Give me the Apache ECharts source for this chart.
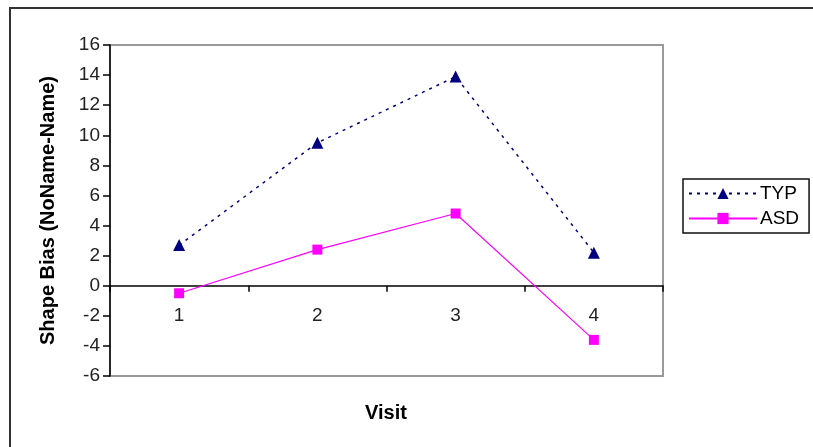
<!DOCTYPE html>
<html>
<head>
<meta charset="utf-8">
<style>
  html, body { margin: 0; padding: 0; background: #fff; }
  #chart { width: 813px; height: 447px; }
</style>
<script src="https://cdn.jsdelivr.net/npm/echarts@6/dist/echarts.min.js"></script>
</head>
<body>
<div id="chart"></div>
<script>
// Visits along the x axis
const visits = ['1', '2', '3', '4'];
// Shape bias per visit for each group
const typValues = [2.7, 9.5, 13.9, 2.2];
const asdValues = [-0.5, 2.4, 4.8, -3.6];
// Value axis range
const yMin = -6;
const yMax = 16;
const yStep = 2;

const FONT = '"Liberation Sans", Arial, sans-serif';

const W = 813, H = 447;
const gridBox = { left: 110, top: 45, right: 150, bottom: 71 };
const plotH = H - gridBox.top - gridBox.bottom;
// The category axis runs along the zero line of the value axis
const zeroShift = plotH * (0 - yMin) / (yMax - yMin);

const chart = echarts.init(document.getElementById('chart'), null, { renderer: 'canvas' });

chart.setOption({
  animation: false,
  backgroundColor: '#fff',
  textStyle: { fontFamily: FONT },
  grid: Object.assign({
    show: true, borderColor: '#999', borderWidth: 2, backgroundColor: 'transparent'
  }, gridBox),
  xAxis: {
    type: 'category',
    data: visits,
    boundaryGap: true,
    position: 'bottom',
    offset: -zeroShift,
    axisLine: { onZero: false, lineStyle: { color: '#000', width: 1.5 } },
    axisTick: { show: true, inside: false, length: 6, lineStyle: { color: '#000', width: 1.5 } },
    axisLabel: { color: '#222', fontSize: 19, fontFamily: FONT, margin: 21 },
    splitLine: { show: false }
  },
  yAxis: {
    type: 'value',
    min: yMin, max: yMax, interval: yStep,
    name: 'Shape Bias (NoName-Name)',
    nameLocation: 'middle',
    nameGap: 52,
    nameTextStyle: { fontFamily: FONT, fontSize: 20, fontWeight: 'bold', color: '#000' },
    axisLine: { show: true, lineStyle: { color: '#000', width: 1.5 } },
    axisTick: { show: true, inside: false, length: 7, lineStyle: { color: '#000', width: 1.5 } },
    axisLabel: { color: '#222', fontSize: 19, fontFamily: FONT, margin: 10 },
    splitLine: { show: false }
  },
  legend: {
    orient: 'vertical',
    left: 683, top: 179,
    padding: [5, 10, 5, 5],
    itemGap: 6,
    itemWidth: 68, itemHeight: 14,
    borderColor: '#111', borderWidth: 1.5,
    backgroundColor: '#fff',
    textStyle: { fontFamily: FONT, fontSize: 19, color: '#000', padding: [0, 0, 0, -2] },
    data: ['TYP', 'ASD']
  },
  graphic: [
    {
      type: 'rect',
      silent: true,
      shape: { x: 10, y: 8, width: 900, height: 600 },
      style: { fill: 'none', stroke: '#333', lineWidth: 2 }
    },
    {
      type: 'text',
      silent: true,
      x: 386, y: 413,
      style: {
        text: 'Visit', fontFamily: FONT, fontSize: 20, fontWeight: 'bold', fill: '#000',
        textAlign: 'center', textVerticalAlign: 'middle'
      }
    }
  ],
  series: [
    {
      name: 'TYP',
      type: 'line',
      data: typValues,
      symbol: 'triangle',
      symbolSize: 12,
      itemStyle: { color: '#000080' },
      lineStyle: { color: '#000080', width: 1.5, type: [3, 5] }
    },
    {
      name: 'ASD',
      type: 'line',
      data: asdValues,
      symbol: 'rect',
      symbolSize: 10,
      itemStyle: { color: '#ff00ff' },
      lineStyle: { color: '#ff00ff', width: 1.2, type: 'solid' }
    }
  ]
});
</script>
</body>
</html>
